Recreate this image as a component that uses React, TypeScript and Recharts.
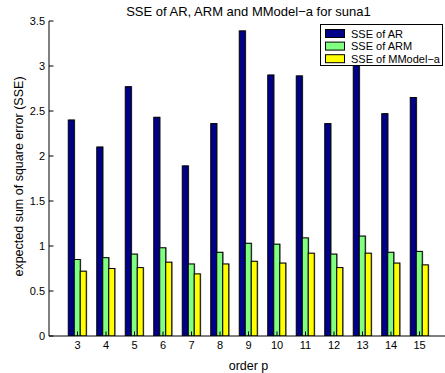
import React from 'react';
import { BarChart, Bar, XAxis, YAxis, Label } from 'recharts';

const orders = ['3', '4', '5', '6', '7', '8', '9', '10', '11', '12', '13', '14', '15'];
const sseAR = [2.40, 2.10, 2.77, 2.43, 1.89, 2.36, 3.39, 2.90, 2.89, 2.36, 3.10, 2.47, 2.65];
const sseARM = [0.85, 0.87, 0.91, 0.98, 0.80, 0.93, 1.03, 1.02, 1.09, 0.91, 1.11, 0.93, 0.94];
const sseMModel = [0.72, 0.75, 0.76, 0.82, 0.69, 0.80, 0.83, 0.81, 0.92, 0.76, 0.92, 0.81, 0.79];
const yTicks = [0, 0.5, 1, 1.5, 2, 2.5, 3, 3.5];
const seriesNames = ['SSE of AR', 'SSE of ARM', 'SSE of MModel\u2212a'];
const seriesColors = ['#000088', '#80ff80', '#ffff00'];

const data = orders.map((p, i) => ({ p, ar: sseAR[i], arm: sseARM[i], mm: sseMModel[i] }));

const FONT = '"Liberation Sans", Arial, Helvetica, sans-serif';

const BottomTick = (props: any) => {
  const { x, y, payload } = props;
  return (
    <g>
      <line x1={x} y1={y} x2={x} y2={y - 4.5} stroke="#000" />
      <text x={x} y={y + 13} textAnchor="middle" fontSize={11} fontFamily={FONT} fill="#000">
        {payload.value}
      </text>
    </g>
  );
};

const TopTick = (props: any) => {
  const { x, y } = props;
  return <line x1={x} y1={y} x2={x} y2={y + 4.5} stroke="#000" />;
};

const LeftTick = (props: any) => {
  const { x, y, payload } = props;
  return (
    <g>
      <line x1={x} y1={y} x2={x + 4.5} y2={y} stroke="#000" />
      <text x={x - 4} y={y} dy={4} textAnchor="end" fontSize={11} fontFamily={FONT} fill="#000">
        {payload.value}
      </text>
    </g>
  );
};

const RightTick = (props: any) => {
  const { x, y } = props;
  return <line x1={x} y1={y} x2={x - 4.5} y2={y} stroke="#000" />;
};

const ShadedBar = (props: any) => {
  const { x, y, width, height, fill } = props;
  if (!height || height <= 0) return null;
  return (
    <g>
      <rect x={x + 1} y={y - 0.5} width={width} height={height + 0.5} fill="#9a9a9a" />
      <rect x={x} y={y} width={width} height={height} fill={fill} stroke="#000" strokeWidth={1} />
    </g>
  );
};

const LegendBox = () => (
  <svg
    width={124}
    height={43}
    style={{ position: 'absolute', left: 319.5, top: 23.5, zIndex: 2, overflow: 'visible' }}
  >
    <rect x={0.5} y={0.5} width={122} height={41} fill="#fff" stroke="#000" strokeWidth={1} />
    {seriesNames.map((n, i) => (
      <g key={n}>
        <rect x={5.5} y={5.5 + i * 12.6} width={19} height={8} fill={seriesColors[i]} stroke="#000" strokeWidth={1} />
        <text x={31} y={13.5 + i * 12.6} fontSize={11} fontFamily={FONT} fill="#000">
          {n}
        </text>
      </g>
    ))}
  </svg>
);

export default function App() {
  return (
    <div style={{ position: 'absolute', left: 0, top: 0, width: 445, height: 373, overflow: 'hidden', background: '#fff' }}>
      <div
        style={{
          position: 'absolute',
          left: 0,
          top: 4,
          width: 497,
          textAlign: 'center',
          fontFamily: FONT,
          fontSize: 13,
          lineHeight: '15px',
          color: '#000',
          whiteSpace: 'nowrap',
        }}
      >
        SSE of AR, ARM and MModel{'\u2212'}a for suna1
      </div>
      <BarChart
        width={460}
        height={373}
        data={data}
        margin={{ top: 21, right: 12, bottom: 0, left: 0 }}
        barSize={6}
        barGap={0}
      >
        <XAxis
          xAxisId="bottom"
          dataKey="p"
          orientation="bottom"
          height={37}
          padding={{ left: 14.25, right: 14.25 }}
          axisLine={{ stroke: '#000' }}
          tickLine={false}
          tickSize={0}
          tickMargin={0}
          tick={<BottomTick />}
          interval={0}
        >
          <Label
            content={() => (
              <text x={248.5} y={370} textAnchor="middle" fontSize={12.5} fontFamily={FONT} fill="#000">
                order p
              </text>
            )}
          />
        </XAxis>
        <XAxis
          xAxisId="top"
          dataKey="p"
          orientation="top"
          height={0}
          padding={{ left: 14.25, right: 14.25 }}
          axisLine={{ stroke: '#000' }}
          tickLine={false}
          tickSize={0}
          tickMargin={0}
          tick={<TopTick />}
          interval={0}
        />
        <YAxis
          yAxisId="left"
          orientation="left"
          width={49}
          domain={[0, 3.5]}
          ticks={yTicks}
          allowDataOverflow
          axisLine={{ stroke: '#000' }}
          tickLine={false}
          tickSize={0}
          tickMargin={0}
          tick={<LeftTick />}
          interval={0}
        >
          <Label
            content={() => (
              <text
                x={22.5}
                y={176.5}
                transform="rotate(-90 22.5 176.5)"
                textAnchor="middle"
                fontSize={12.5}
                fontFamily={FONT}
                fill="#000"
              >
                expected sum of square error (SSE)
              </text>
            )}
          />
        </YAxis>
        <YAxis
          yAxisId="right"
          orientation="right"
          width={0}
          domain={[0, 3.5]}
          ticks={yTicks}
          allowDataOverflow
          axisLine={{ stroke: '#000' }}
          tickLine={false}
          tickSize={0}
          tickMargin={0}
          tick={<RightTick />}
          interval={0}
        />
        <Bar xAxisId="bottom" yAxisId="left" dataKey="ar" name={seriesNames[0]} fill={seriesColors[0]} shape={<ShadedBar />} isAnimationActive={false} />
        <Bar xAxisId="bottom" yAxisId="left" dataKey="arm" name={seriesNames[1]} fill={seriesColors[1]} shape={<ShadedBar />} isAnimationActive={false} />
        <Bar xAxisId="bottom" yAxisId="left" dataKey="mm" name={seriesNames[2]} fill={seriesColors[2]} shape={<ShadedBar />} isAnimationActive={false} />
      </BarChart>
      <LegendBox />
    </div>
  );
}
